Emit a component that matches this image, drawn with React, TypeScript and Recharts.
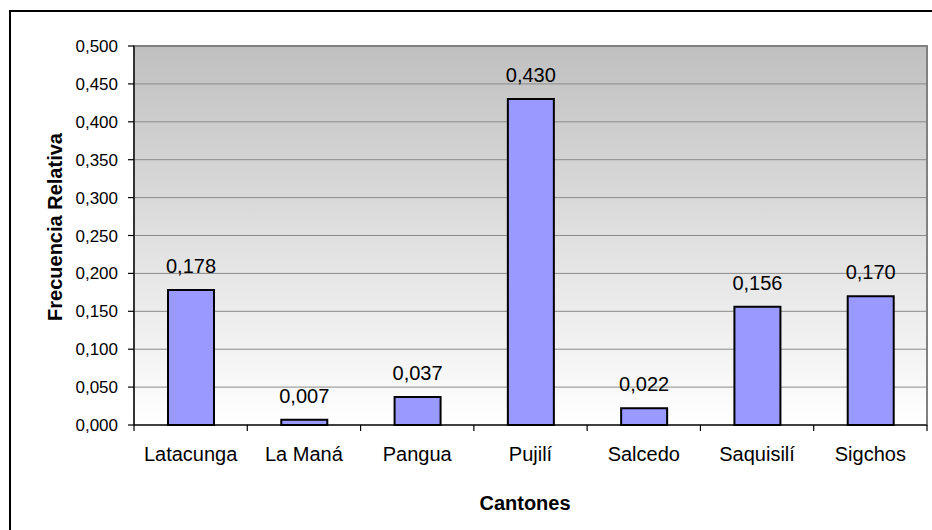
import React from "react";
import {
  BarChart,
  Bar,
  XAxis,
  YAxis,
  CartesianGrid,
  LabelList,
  ReferenceArea,
} from "recharts";

const cantones = ["Latacunga", "La Maná", "Pangua", "Pujilí", "Salcedo", "Saquisilí", "Sigchos"];
const frecuencias = [0.178, 0.007, 0.037, 0.43, 0.022, 0.156, 0.17];
const yTicks = [0, 0.05, 0.1, 0.15, 0.2, 0.25, 0.3, 0.35, 0.4, 0.45, 0.5];

const data = cantones.map((c, i) => ({ canton: c, valor: frecuencias[i] }));

const FONT = "'Liberation Sans', Arial, sans-serif";
const fmt = (v: number) => v.toFixed(3).replace(".", ",");

function CategoryTick(props: any) {
  const { x, y, payload, index, visibleTicksCount, width } = props;
  const half = payload.offset ?? width / visibleTicksCount / 2;
  const left = payload.coordinate - half;
  const right = payload.coordinate + half;
  return (
    <g>
      <line x1={left} x2={left} y1={y} y2={y + 6} stroke="#000" strokeWidth={1.2} />
      {index === visibleTicksCount - 1 && (
        <line x1={right} x2={right} y1={y} y2={y + 6} stroke="#000" strokeWidth={1.2} />
      )}
      <text x={x} y={y + 22} dy="0.71em" textAnchor="middle" fontSize={20} fontFamily={FONT} fill="#000">
        {payload.value}
      </text>
    </g>
  );
}

export default function App() {
  return (
    <div style={{ position: "absolute", left: 0, top: 0, width: 932, height: 530, overflow: "hidden", background: "#fff" }}>
      <div
        style={{
          position: "absolute",
          left: 9,
          top: 10,
          width: 960,
          height: 560,
          borderTop: "2px solid #000",
          borderLeft: "2px solid #000",
        }}
      />
      <div style={{ position: "absolute", left: 0, top: 0 }}>
        <BarChart width={932} height={530} data={data} margin={{ top: 46, right: 5, left: 0, bottom: 0 }}>
          <defs>
            <linearGradient id="bg" x1="0" y1="0" x2="0" y2="1">
              <stop offset="0%" stopColor="#c0c0c0" />
              <stop offset="100%" stopColor="#ffffff" />
            </linearGradient>
          </defs>
          <CartesianGrid vertical={false} stroke="#8a8a8a" fill="url(#bg)" fillOpacity={1} />
          <ReferenceArea y1={0} y2={0.5} fill="none" stroke="#808080" strokeWidth={2} ifOverflow="visible" />
          <XAxis
            dataKey="canton"
            height={105}
            tickSize={0}
            tickMargin={0}
            tick={<CategoryTick />}
            axisLine={{ stroke: "#000", strokeWidth: 1.2 }}
            interval={0}
          />
          <YAxis
            width={134}
            domain={[0, 0.5]}
            ticks={yTicks}
            tickFormatter={fmt}
            tickSize={6}
            tickMargin={10}
            tick={{ fontSize: 17, fontFamily: FONT, fill: "#000" }}
            tickLine={{ stroke: "#000", strokeWidth: 1.2 }}
            axisLine={{ stroke: "#000", strokeWidth: 1.2 }}
          />
          <Bar dataKey="valor" fill="#9999ff" stroke="#000" strokeWidth={2} barSize={46} isAnimationActive={false}>
            <LabelList
              dataKey="valor"
              position="top"
              offset={17}
              formatter={(v: any) => fmt(Number(v))}
              style={{ fontSize: 20, fontFamily: FONT, fill: "#000" }}
            />
          </Bar>
          <text
            x={62}
            y={227}
            transform="rotate(-90, 62, 227)"
            textAnchor="middle"
            fontSize={20}
            fontWeight="bold"
            fontFamily={FONT}
            fill="#000"
          >
            Frecuencia Relativa
          </text>
          <text x={525} y={510} textAnchor="middle" fontSize={20} fontWeight="bold" fontFamily={FONT} fill="#000">
            Cantones
          </text>
        </BarChart>
      </div>
    </div>
  );
}
